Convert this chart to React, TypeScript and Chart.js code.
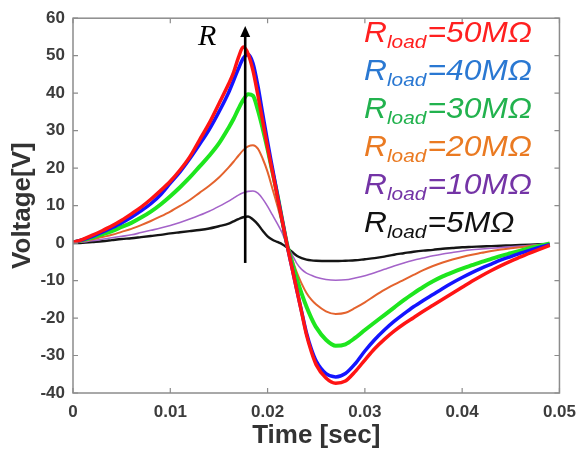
import React, { useEffect, useRef } from "react";
import { Chart, registerables } from "chart.js";
Chart.register(...registerables);

// time samples [sec]
const times = [0, 0.001, 0.002, 0.003, 0.004, 0.005, 0.006, 0.007, 0.008, 0.009, 0.010, 0.011, 0.012, 0.013, 0.014, 0.015, 0.016, 0.0165, 0.017, 0.0175, 0.018, 0.0185, 0.019, 0.0195, 0.020, 0.0205, 0.021, 0.0215, 0.022, 0.0225, 0.023, 0.0235, 0.024, 0.0245, 0.025, 0.026, 0.027, 0.028, 0.029, 0.030, 0.031, 0.032, 0.033, 0.034, 0.035, 0.036, 0.037, 0.038, 0.039, 0.040, 0.041, 0.042, 0.043, 0.044, 0.045, 0.046, 0.047, 0.048, 0.049];

const v50M = [0.2, 1.0, 2.1, 3.3, 4.6, 6.1, 7.8, 9.6, 11.7, 14.0, 16.5, 19.5, 23.0, 27.5, 32.0, 37.2, 42.5, 45.5, 49.5, 52.3, 50.5, 46.0, 39.5, 32.5, 25.5, 19.0, 12.5, 6.0, -0.5, -6.5, -12.5, -18.5, -24.5, -29.0, -32.5, -36.0, -37.4, -36.8, -34.3, -31.2, -28.2, -25.7, -23.5, -21.6, -19.9, -18.2, -16.6, -15.0, -13.4, -11.8, -10.2, -8.7, -7.3, -6.0, -4.8, -3.7, -2.6, -1.6, -0.6];
const v40M = [0.2, 0.9, 1.8, 2.9, 4.1, 5.4, 6.9, 8.6, 10.5, 12.9, 16.0, 19.0, 22.5, 26.3, 30.3, 35.0, 40.2, 43.3, 46.5, 49.3, 50.3, 48.0, 42.0, 34.5, 27.0, 20.0, 13.0, 6.2, -0.5, -6.5, -12.5, -18.3, -24.0, -28.3, -31.5, -34.8, -35.7, -34.8, -32.2, -28.8, -25.8, -23.2, -20.9, -18.9, -17.0, -15.3, -13.7, -12.1, -10.6, -9.2, -7.9, -6.7, -5.6, -4.5, -3.6, -2.7, -1.9, -1.1, -0.4];
const v30M = [0.2, 0.8, 1.5, 2.3, 3.2, 4.3, 5.4, 6.8, 8.4, 10.3, 12.5, 14.9, 17.5, 20.4, 23.3, 26.6, 30.8, 33.1, 35.8, 38.2, 39.7, 39.3, 35.5, 30.5, 25.0, 19.0, 13.0, 6.2, -0.3, -5.0, -9.5, -13.5, -17.0, -20.0, -22.5, -25.8, -27.4, -27.0, -25.3, -23.2, -21.2, -19.2, -17.2, -15.2, -13.4, -11.7, -10.2, -8.9, -7.8, -6.8, -5.9, -5.0, -4.2, -3.4, -2.7, -2.0, -1.3, -0.7, -0.1];
const v20M = [0.1, 0.5, 1.0, 1.6, 2.2, 3.0, 3.8, 4.8, 5.9, 7.1, 8.4, 9.9, 11.5, 13.4, 15.3, 17.5, 20.2, 21.7, 23.3, 24.8, 25.8, 26.1, 25.2, 22.5, 19.0, 14.5, 10.0, 5.0, -0.3, -4.0, -7.8, -10.8, -13.3, -15.1, -16.4, -18.2, -18.9, -18.6, -17.3, -15.8, -14.1, -12.5, -11.1, -9.8, -8.5, -7.2, -6.1, -5.2, -4.4, -3.7, -3.1, -2.6, -2.1, -1.7, -1.4, -1.1, -0.8, -0.5, -0.2];
const v10M = [0, 0.3, 0.6, 1.0, 1.4, 1.8, 2.2, 2.8, 3.4, 4.0, 4.7, 5.5, 6.4, 7.4, 8.5, 9.8, 11.2, 12.0, 12.8, 13.4, 13.8, 13.9, 13.3, 11.8, 9.8, 7.5, 5.2, 2.7, -0.6, -3.0, -5.4, -7.0, -8.0, -8.6, -9.1, -9.7, -9.9, -9.8, -9.3, -8.7, -7.9, -7.0, -6.1, -5.3, -4.6, -4.0, -3.4, -2.9, -2.5, -2.1, -1.8, -1.6, -1.4, -1.2, -1.0, -0.8, -0.6, -0.4, -0.2];
const v5M = [0, 0.1, 0.3, 0.5, 0.8, 1.1, 1.3, 1.6, 1.9, 2.2, 2.6, 2.9, 3.2, 3.5, 3.9, 4.5, 5.2, 5.8, 6.4, 6.9, 7.1, 6.3, 5.0, 3.3, 1.8, 0.9, 0.3, -0.3, -1.2, -2.3, -3.4, -4.0, -4.4, -4.6, -4.7, -4.8, -4.8, -4.7, -4.6, -4.3, -4.0, -3.6, -3.1, -2.7, -2.3, -2.0, -1.8, -1.5, -1.3, -1.1, -1.0, -0.9, -0.8, -0.7, -0.6, -0.5, -0.4, -0.3, -0.2];

const xTicks = [0, 0.01, 0.02, 0.03, 0.04, 0.05];
const yTicks = [-40, -30, -20, -10, 0, 10, 20, 30, 40, 50, 60];
const loadLabels = ["=50MΩ", "=40MΩ", "=30MΩ", "=20MΩ", "=10MΩ", "=5MΩ"];
const arrowTime = 0.0177;
const arrowFrom = -5.3;
const arrowTo = 57.9;

const series = [
  { data: v50M, line: "#ff1414", text: "#ff2020", width: 3.5 },
  { data: v40M, line: "#1414ff", text: "#2a78d2", width: 3.5 },
  { data: v30M, line: "#1ee61e", text: "#22b24e", width: 4 },
  { data: v20M, line: "#e4632e", text: "#ea7a22", width: 2 },
  { data: v10M, line: "#a463c9", text: "#7434a6", width: 1.6 },
  { data: v5M, line: "#151515", text: "#111111", width: 2.4 },
];

const FONT = '"Liberation Sans", Arial, sans-serif';

const decorPlugin = {
  id: "decor",
  afterDatasetsDraw(chart: any) {
    const { ctx, chartArea: a, scales } = chart;
    const xs = scales.x;
    const ys = scales.y;
    ctx.save();
    // frame
    ctx.strokeStyle = "#8c8c8c";
    ctx.lineWidth = 1.5;
    ctx.strokeRect(a.left, a.top, a.right - a.left, a.bottom - a.top);
    // inward ticks
    ctx.lineWidth = 1.2;
    ctx.beginPath();
    xTicks.forEach((v) => {
      const px = xs.getPixelForValue(v);
      ctx.moveTo(px, a.bottom);
      ctx.lineTo(px, a.bottom - 5);
      ctx.moveTo(px, a.top);
      ctx.lineTo(px, a.top + 5);
    });
    yTicks.forEach((v) => {
      const py = ys.getPixelForValue(v);
      ctx.moveTo(a.left, py);
      ctx.lineTo(a.left + 5, py);
      ctx.moveTo(a.right, py);
      ctx.lineTo(a.right - 5, py);
    });
    ctx.stroke();

    // arrow
    const ax = xs.getPixelForValue(arrowTime);
    const ay0 = ys.getPixelForValue(arrowFrom);
    const ay1 = ys.getPixelForValue(arrowTo);
    ctx.strokeStyle = "#000";
    ctx.fillStyle = "#000";
    ctx.lineWidth = 2.6;
    ctx.beginPath();
    ctx.moveTo(ax, ay0);
    ctx.lineTo(ax, ay1 + 8);
    ctx.stroke();
    ctx.beginPath();
    ctx.moveTo(ax, ay1);
    ctx.lineTo(ax - 5, ay1 + 11);
    ctx.lineTo(ax + 5, ay1 + 11);
    ctx.closePath();
    ctx.fill();

    // R label
    ctx.font = 'italic 30px "Liberation Serif", "Times New Roman", serif';
    ctx.textBaseline = "alphabetic";
    ctx.textAlign = "left";
    ctx.fillText("R", 198, 45);

    // colored legend labels
    const mainFont = `italic 29px ${FONT}`;
    const subFont = `italic 19px ${FONT}`;
    ctx.font = mainFont;
    const w1 = ctx.measureText("R" + loadLabels[0]).width;
    ctx.font = subFont;
    const wSub = ctx.measureText("load").width;
    const sx = 168 / (w1 + wSub + 1);
    loadLabels.forEach((lab, i) => {
      const base = 42 + 38 * i;
      ctx.save();
      ctx.translate(364, base);
      ctx.scale(sx, 1);
      let x = 0;
      ctx.fillStyle = series[i].text;
      ctx.font = mainFont;
      ctx.fillText("R", x, 0);
      x += ctx.measureText("R").width;
      ctx.font = subFont;
      ctx.fillText("load", x, 6);
      x += ctx.measureText("load").width + 1;
      ctx.font = mainFont;
      ctx.fillText(lab, x, 0);
      ctx.restore();
    });
    ctx.restore();
  },
};

export default function App() {
  const ref = useRef<HTMLCanvasElement>(null);
  useEffect(() => {
    document.body.style.margin = "0";
    const canvas = ref.current!;
    const datasets = series.map((s, i) => ({
      data: times.map((t, j) => ({ x: t, y: s.data[j] })),
      borderColor: s.line,
      borderWidth: s.width,
      pointRadius: 0,
      fill: false,
      cubicInterpolationMode: "monotone" as const,
      order: i,
    }));
    const chart = new Chart(canvas, {
      type: "line",
      data: { datasets },
      plugins: [decorPlugin],
      options: {
        animation: false,
        responsive: false,
        maintainAspectRatio: false,
        layout: { padding: { top: 15, right: 18, left: 0, bottom: 0 } },
        plugins: { legend: { display: false }, tooltip: { enabled: false } },
        scales: {
          x: {
            type: "linear",
            min: 0,
            max: 0.05,
            afterBuildTicks: (s: any) => { s.ticks = xTicks.map((v) => ({ value: v })); },
            afterFit: (s: any) => { s.height = 60; },
            grid: { display: false, drawTicks: false },
            border: { display: false },
            ticks: {
              padding: 9,
              color: "#3c3c3c",
              font: { family: FONT, size: 17, weight: "bold" },
              callback: (v: any) => (v === 0 ? "0" : Number(v).toFixed(2)),
            },
            title: {
              display: true,
              text: "Time [sec]",
              color: "#333",
              font: { family: FONT, size: 26, weight: "bold" },
              padding: { top: 0, bottom: 2 },
            },
          },
          y: {
            type: "linear",
            min: -40,
            max: 60,
            afterBuildTicks: (s: any) => { s.ticks = yTicks.map((v) => ({ value: v })); },
            afterFit: (s: any) => { s.width = 73; },
            grid: { display: false, drawTicks: false },
            border: { display: false },
            ticks: {
              padding: 8,
              color: "#3c3c3c",
              font: { family: FONT, size: 17, weight: "bold" },
            },
            title: {
              display: true,
              text: "Voltage[V]",
              color: "#333",
              font: { family: FONT, size: 26, weight: "bold" },
              padding: { top: 7, bottom: 0 },
            },
          },
        },
      },
    });
    return () => chart.destroy();
  }, []);
  return <canvas ref={ref} width={585} height={453} style={{ display: "block", width: 585, height: 453 }} />;
}
